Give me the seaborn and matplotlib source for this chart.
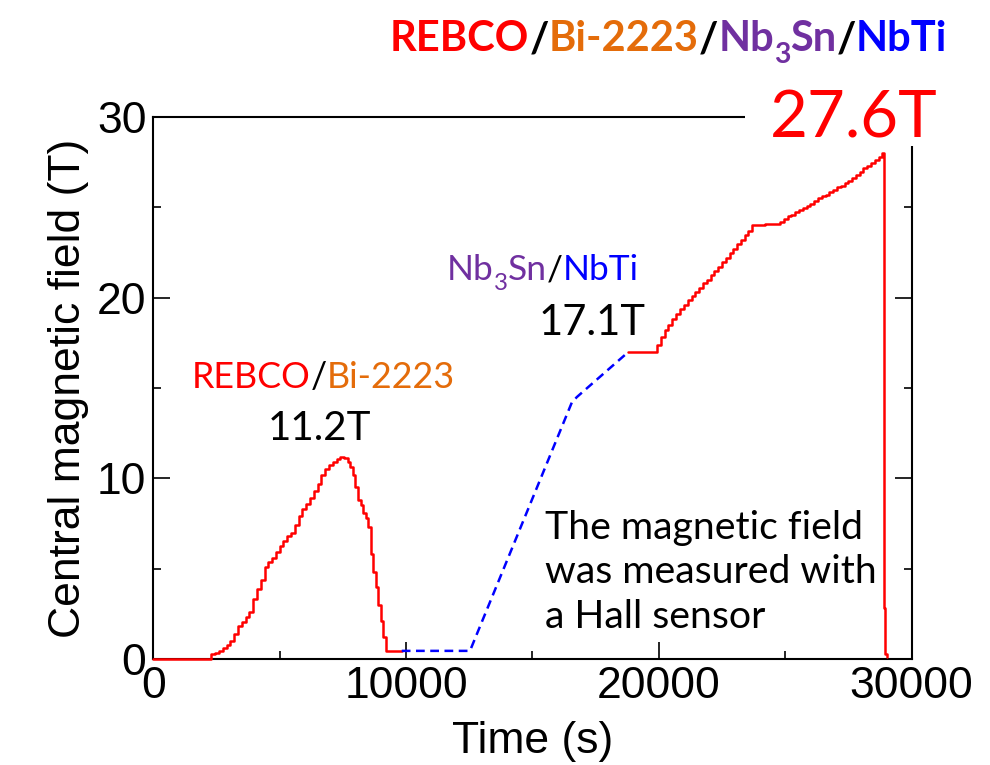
#!/usr/bin/env python3
"""Central magnetic field vs time for the REBCO/Bi-2223/Nb3Sn/NbTi magnet test."""

import matplotlib.pyplot as plt
import pandas as pd
import seaborn as sns
from matplotlib.patches import Rectangle
from matplotlib.ticker import MultipleLocator

# First run: REBCO/Bi-2223 insert alone (red, up to 11.2 T).
t_run1 = [0, 2180, 2300, 2450, 2600, 2750, 2900, 3050, 3200, 3350, 3500, 3650,
          3800, 3950, 4100, 4250, 4400, 4550, 4700, 4850, 5000, 5150, 5300,
          5450, 5600, 5750, 5900, 6050, 6200, 6350, 6500, 6650, 6800, 6950,
          7100, 7250, 7400, 7550, 7700, 7800, 7900, 8000, 8100, 8200, 8300,
          8400, 8500, 8600, 8700, 8800, 8900, 9000, 9100, 9200, 9830]
b_run1 = [0, 0, 0.25, 0.35, 0.45, 0.6, 0.8, 1.0, 1.4, 1.8, 2.05, 2.3,
          2.6, 3.3, 3.9, 4.4, 5.1, 5.35, 5.6, 5.9, 6.25, 6.55, 6.8,
          7.0, 7.4, 7.9, 8.3, 8.6, 8.9, 9.3, 9.7, 10.2, 10.5, 10.75,
          10.9, 11.05, 11.2, 11.1, 10.9, 10.6, 10.2, 9.5, 8.8, 8.5, 8.1,
          7.8, 7.3, 5.8, 4.8, 4.0, 3.0, 2.1, 1.2, 0.47, 0.45]

# Nb3Sn/NbTi outsert ramp (blue dashed, up to 17.1 T).
t_outsert = [9830, 12530, 16560, 16760, 18800]
b_outsert = [0.45, 0.45, 14.2, 14.5, 17.0]

# Full REBCO/Bi-2223/Nb3Sn/NbTi run (red, up to 27.6 T, then quench).
t_run2 = [18800, 19780, 19930, 20080, 20230, 20380, 20530, 20680, 20840, 21000,
          21150, 21300, 21450, 21600, 21750, 21900, 22050, 22200, 22350, 22500,
          22650, 22800, 22950, 23100, 23250, 23400, 23550, 23700, 23850, 24200,
          24600, 24800, 24950, 25100, 25250, 25400, 25550, 25700, 25850, 26000,
          26150, 26300, 26450, 26600, 26750, 26900, 27050, 27200, 27350, 27500,
          27650, 27800, 27950, 28100, 28250, 28400, 28550, 28700, 28850, 28900,
          28950, 29050]
b_run2 = [17.0, 17.0, 17.4, 17.8, 18.2, 18.5, 18.8, 19.1, 19.35, 19.6,
          19.85, 20.1, 20.3, 20.55, 20.8, 21.0, 21.25, 21.45, 21.7, 21.95,
          22.2, 22.45, 22.7, 22.95, 23.2, 23.45, 23.7, 24.0, 24.0, 24.05,
          24.1, 24.2, 24.35, 24.5, 24.6, 24.75, 24.85, 24.95, 25.1, 25.2,
          25.35, 25.5, 25.6, 25.7, 25.85, 25.95, 26.1, 26.2, 26.35, 26.45,
          26.6, 26.8, 26.95, 27.15, 27.3, 27.45, 27.6, 27.8, 28.0, 2.8,
          0.3, 0.1]

x_ticks = [0, 10000, 20000, 30000]
y_ticks = [0, 10, 20, 30]

RED = "#FF0000"
ORANGE = "#E46C0A"
PURPLE = "#7030A0"
BLUE = "#0000FF"
LABEL_FONT = "Lato"


def colored_line(ax, x, y, size, pieces, weight="normal"):
    """Write text pieces side by side, starting at (x, y) in figure pixels.

    pieces: (text, color, is_subscript)
    """
    prev = None
    for text, color, sub in pieces:
        fs = size * 0.68 if sub else size
        dy = -size * 0.28 if sub else 0
        if prev is None:
            xy, coords = (x / 990, y), ("figure fraction", "figure fraction")
        else:
            xy, coords = (1, y), (prev, "figure fraction")
        prev = ax.annotate(text, xy=xy, xycoords=coords, xytext=(0, dy),
                           textcoords="offset points", color=color,
                           fontsize=fs, fontweight=weight, family=LABEL_FONT,
                           ha="left", va="baseline", annotation_clip=False,
                           zorder=7)
    return prev


def fy(px):
    # pixel row (from top) -> figure fraction
    return 1 - px / 765


def main() -> None:
    sns.set_theme(style="ticks")
    plt.rcParams["font.family"] = ["Liberation Sans", "DejaVu Sans"]

    run1 = pd.DataFrame({"time": t_run1, "field": b_run1})
    outsert = pd.DataFrame({"time": t_outsert, "field": b_outsert})
    run2 = pd.DataFrame({"time": t_run2, "field": b_run2})

    fig = plt.figure(figsize=(9.9, 7.65), dpi=100)
    ax = fig.add_axes([153.3 / 990, fy(659), (911.5 - 153.3) / 990, (659 - 117) / 765])

    line_kw = dict(ax=ax, lw=1.8, sort=False, estimator=None, clip_on=False, zorder=3)
    sns.lineplot(data=run1, x="time", y="field", color=RED,
                 drawstyle="steps-post", **line_kw)
    sns.lineplot(data=outsert, x="time", y="field", color=BLUE,
                 linestyle=(0, (3.5, 2.2)), **line_kw)
    sns.lineplot(data=run2, x="time", y="field", color=RED,
                 drawstyle="steps-post", **line_kw)

    ax.set_xlim(0, 30000)
    ax.set_ylim(0, 30)
    ax.set_xticks(x_ticks)
    ax.set_yticks(y_ticks)
    ax.xaxis.set_minor_locator(MultipleLocator(5000))
    ax.yaxis.set_minor_locator(MultipleLocator(5))
    ax.tick_params(which="both", direction="in", color="black", width=1.2,
                   right=True, top=False, labelsize=32, labelcolor="black")
    ax.tick_params(which="major", length=12, pad=5)
    ax.tick_params(which="minor", length=6)
    for side in ["left", "right", "top", "bottom"]:
        ax.spines[side].set_visible(True)
        ax.spines[side].set_color("black")
        ax.spines[side].set_linewidth(1.5)

    ax.set_xlabel("Time (s)", fontsize=32, color="black", labelpad=10)
    ax.set_ylabel("Central magnetic field (T)", fontsize=32, color="black", labelpad=6)

    # White box of the 27.6T label hides the top-right corner of the frame.
    ax.add_patch(Rectangle((745 / 990, fy(146)), 0.3, (146 - 70) / 765,
                           transform=fig.transFigure, facecolor="white",
                           edgecolor="none", clip_on=False, zorder=5))
    fig.text(770 / 990, fy(137), "27.6T", color=RED, fontsize=47,
             family=LABEL_FONT, ha="left", va="baseline", zorder=6)

    # Title line.
    colored_line(ax, 390, fy(51), 30, [
        ("REBCO", RED, False), ("/", "black", False), ("Bi-2223", ORANGE, False),
        ("/", "black", False), ("Nb", PURPLE, False), ("3", PURPLE, True),
        ("Sn", PURPLE, False), ("/", "black", False), ("NbTi", BLUE, False),
    ], weight="bold")

    # Run labels.
    colored_line(ax, 192, fy(388), 25.8, [
        ("REBCO", RED, False), ("/", "black", False), ("Bi-2223", ORANGE, False),
    ])
    fig.text(319 / 990, fy(440), "11.2T", fontsize=29, family=LABEL_FONT,
             color="black", ha="center", va="baseline")
    colored_line(ax, 447, fy(280), 25.5, [
        ("Nb", PURPLE, False), ("3", PURPLE, True), ("Sn", PURPLE, False),
        ("/", "black", False), ("NbTi", BLUE, False),
    ])
    fig.text(592 / 990, fy(335), "17.1T", fontsize=30, family=LABEL_FONT,
             color="black", ha="center", va="baseline")

    fig.text(545 / 990, fy(628),
             "The magnetic field\nwas measured with\na Hall sensor",
             fontsize=28.3, family=LABEL_FONT, color="black",
             ha="left", va="baseline", linespacing=1.3)

    fig.savefig("out.png", dpi=100)


if __name__ == "__main__":
    main()
